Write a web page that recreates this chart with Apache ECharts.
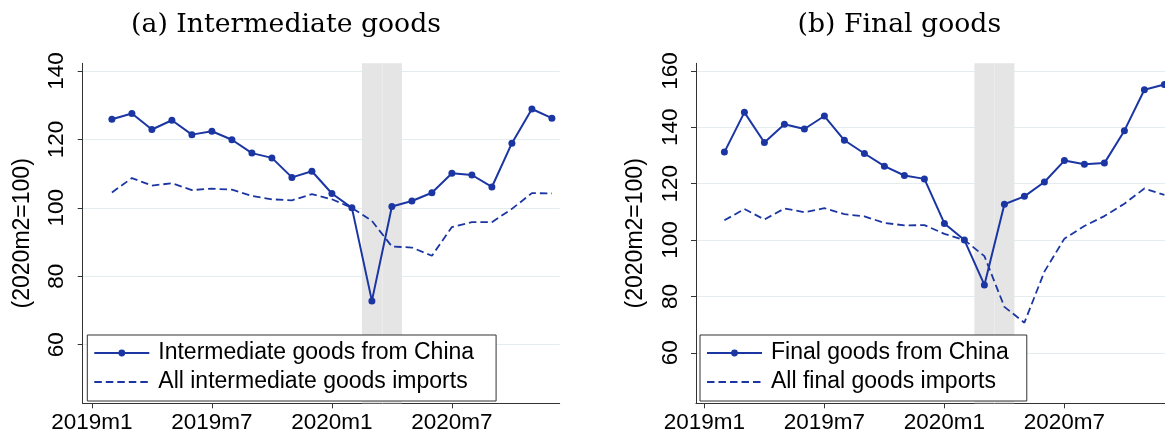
<!DOCTYPE html>
<html><head><meta charset="utf-8">
<script src="https://cdn.jsdelivr.net/npm/echarts@6/dist/echarts.min.js"></script>
<style>html,body{margin:0;padding:0;background:#fff}#c{width:1165px;height:434px}</style>
</head><body><div id="c"></div>
<script>
// ---- data ----
const months = ['2019m2','2019m3','2019m4','2019m5','2019m6','2019m7','2019m8','2019m9','2019m10','2019m11','2019m12',
  '2020m1','2020m2','2020m3','2020m4','2020m5','2020m6','2020m7','2020m8','2020m9','2020m10','2020m11','2020m12'];
const interChina = [125.9,127.6,122.9,125.6,121.4,122.4,119.9,116.0,114.6,108.9,110.7,104.2,100.0,72.8,100.4,102.0,104.4,110.1,109.6,106.1,118.9,128.9,126.2];
const interAll   = [104.5,108.7,106.5,107.2,105.2,105.6,105.3,103.5,102.5,102.2,104.0,102.5,100.0,96.2,88.7,88.4,86.0,94.4,95.8,95.8,99.7,104.3,104.2];
const finalChina = [131.2,145.3,134.6,141.1,139.4,144.0,135.4,130.7,126.2,122.9,121.7,105.9,100.0,84.1,112.7,115.5,120.6,128.2,126.9,127.3,138.8,153.3,155.2];
const finalAll   = [107.0,111.0,107.3,111.2,109.9,111.3,109.2,108.4,106.1,105.2,105.3,102.2,100.0,94.3,76.3,70.7,88.8,100.5,105.0,108.5,112.9,118.3,116.0];
const xTickLabels = ['2019m1','2019m7','2020m1','2020m7'];
const yTicksA = [60,80,100,120,140];
const yTicksB = [60,80,100,120,140,160];
const shadeMonths = ['2020m3','2020m4'];
const titles = ['(a) Intermediate goods','(b) Final goods'];
const names = ['Intermediate goods from China','All intermediate goods imports','Final goods from China','All final goods imports'];
const yName = '(2020m2=100)';

// ---- helpers ----
const monthPos = s => { const p = s.split('m').map(Number); return (p[0]-2019)*12 + (p[1]-1); };
const pairs = vals => months.map((m,i) => [monthPos(m), vals[i]]);
const xTickPos = xTickLabels.map(monthPos);
const BLUE = '#1b36a3';
const SANS = 'Liberation Sans, Arial, sans-serif';
const AX = '#333';

function xAxisCfg(gi, min){
  return {type:'value', gridIndex:gi, min:min, max:min+23.85,
    axisLine:{show:true, onZero:false, lineStyle:{color:AX, width:1}},
    axisTick:{show:true, length:5, customValues:xTickPos, lineStyle:{color:AX}},
    axisLabel:{customValues:xTickPos, margin:8, fontSize:22.5, fontFamily:SANS, color:'#000',
      formatter: v => xTickLabels[xTickPos.indexOf(v)] || ''},
    splitLine:{show:false}};
}
function yAxisCfg(gi, min, max, ticks){
  return {type:'value', gridIndex:gi, min:min, max:max,
    axisLine:{show:true, onZero:false, lineStyle:{color:AX, width:1}},
    axisTick:{show:true, length:5, customValues:ticks, lineStyle:{color:AX}},
    axisLabel:{customValues:ticks, rotate:90, margin:14, fontSize:22.5, fontFamily:SANS, color:'#000'},
    splitLine:{show:true, lineStyle:{color:'#e3edf0', width:1.2}},
    name:yName, nameLocation:'middle', nameGap:49,
    nameTextStyle:{fontSize:23, fontFamily:SANS, color:'#000'}};
}
function shadeSeries(i){
  const areas = shadeMonths.map(m => [{xAxis:monthPos(m)-0.5},{xAxis:monthPos(m)+0.5}]);
  return {type:'line', xAxisIndex:i, yAxisIndex:i, data:[], z:1, silent:true,
    markArea:{silent:true, z:1, itemStyle:{color:'#e5e5e5'}, data:areas},
    markLine:{silent:true, z:1, symbol:'none', label:{show:false}, lineStyle:{color:'#ececec', width:1, type:'solid'},
      data:[{xAxis:monthPos(shadeMonths[0])+0.5}]}};
}
function solid(i, name, vals){
  return {type:'line', name:name, xAxisIndex:i, yAxisIndex:i, data:pairs(vals), z:3,
    symbol:'circle', symbolSize:7, showSymbol:true,
    lineStyle:{color:BLUE, width:2}, itemStyle:{color:BLUE}};
}
function dashed(i, name, vals){
  return {type:'line', name:name, xAxisIndex:i, yAxisIndex:i, data:pairs(vals), z:3,
    symbol:'none', lineStyle:{color:BLUE, width:1.8, type:[7.5,4]}, itemStyle:{color:BLUE}};
}
function legendCfg(left, padRight, n1, n2){
  return {data:[{name:n1},{name:n2, itemStyle:{opacity:0}}], orient:'vertical', left:left, top:335, z:20,
    itemWidth:55, itemHeight:8.5, itemGap:3, padding:[5,padRight,6,6],
    borderColor:'#333', borderWidth:1, borderRadius:0, backgroundColor:'#fff', selectedMode:false,
    textStyle:{fontSize:23, fontFamily:SANS, color:'#000', lineHeight:26, padding:[0,0,0,4]}};
}

const chart = echarts.init(document.getElementById('c'), null, {renderer:'canvas'});
chart.setOption({
  animation:false,
  backgroundColor:'#fff',
  title:[
    {text:titles[0], left:286, top:11.6, textAlign:'center', textVerticalAlign:'top', padding:0,
      textStyle:{fontFamily:'DejaVu Serif', fontSize:26.7, fontWeight:'normal', color:'#000', lineHeight:27}},
    {text:titles[1], left:899.3, top:11.6, textAlign:'center', textVerticalAlign:'top', padding:0,
      textStyle:{fontFamily:'DejaVu Serif', fontSize:26.7, fontWeight:'normal', color:'#000', lineHeight:27}}
  ],
  grid:[
    {left:82.7, top:63.3, width:477, height:340, containLabel:false, outerBoundsMode:'none'},
    {left:696, top:63.3, width:477, height:340, containLabel:false, outerBoundsMode:'none'}
  ],
  xAxis:[xAxisCfg(0,-0.46), xAxisCfg(1,-0.42)],
  yAxis:[yAxisCfg(0,42.87,142.25,yTicksA), yAxisCfg(1,42.1,162.7,yTicksB)],
  legend:[legendCfg(87.3,22,names[0],names[1]), legendCfg(700,18,names[2],names[3])],
  series:[
    shadeSeries(0), shadeSeries(1),
    solid(0,names[0],interChina), dashed(0,names[1],interAll),
    solid(1,names[2],finalChina), dashed(1,names[3],finalAll)
  ]
});
</script></body></html>
